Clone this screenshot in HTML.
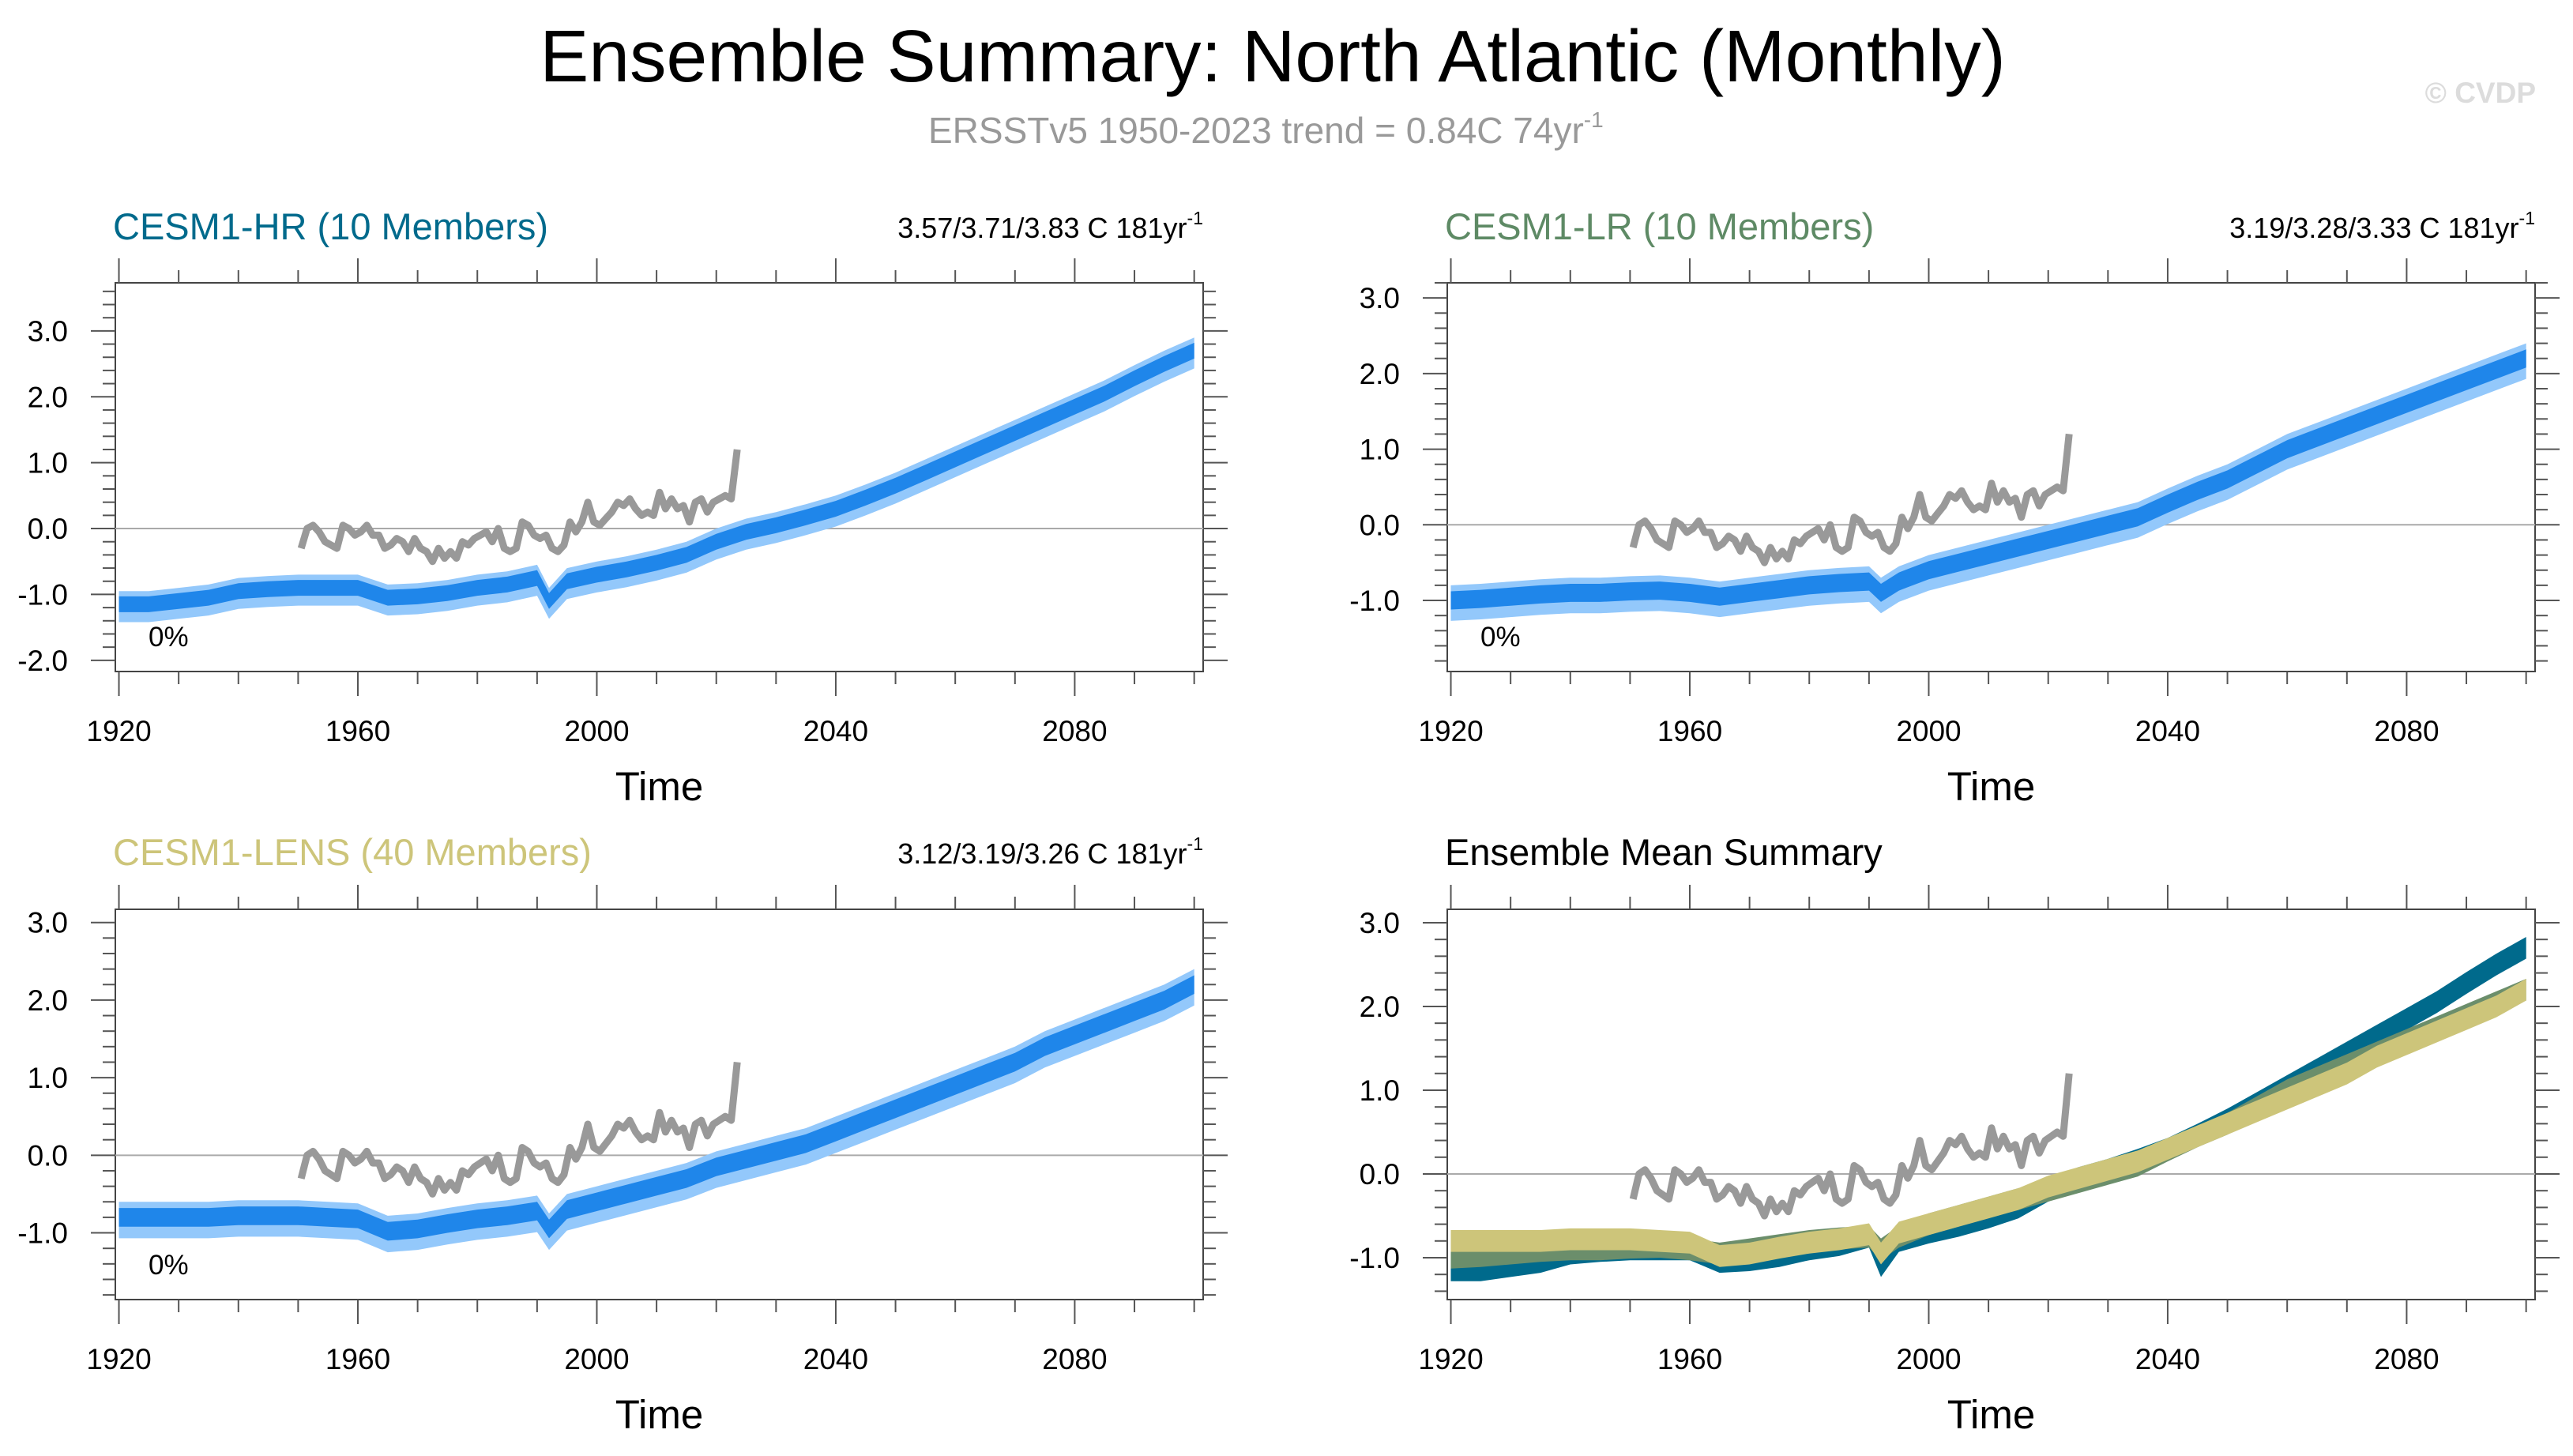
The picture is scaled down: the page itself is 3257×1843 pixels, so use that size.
<!DOCTYPE html>
<html><head><meta charset="utf-8"><style>
html,body{margin:0;padding:0;background:#fff;}
svg{display:block;font-family:"Liberation Sans",Arial,sans-serif;}
</style></head><body>
<svg id="fig" width="3257" height="1843" viewBox="0 0 3257 1843" xmlns="http://www.w3.org/2000/svg">
<rect width="3257" height="1843" fill="#fff"/>
<text x="1611" y="103" font-size="93" text-anchor="middle" fill="#000">Ensemble Summary: North Atlantic (Monthly)</text>
<text x="1175" y="181" font-size="46" fill="#999">ERSSTv5 1950-2023 trend = 0.84C 74yr<tspan font-size="28" dy="-20">-1</tspan></text>
<text x="3210" y="130" font-size="37" font-weight="bold" text-anchor="end" fill="#dcdcdc">© CVDP</text>
<g id="panels"></g>
</svg>
<script>
// ---- data ----
const years = [1920,1925,1930,1935,1940,1945,1950,1955,1960,1965,1970,1975,1980,1985,1990,1992,1995,2000,2005,2010,2015,2020,2025,2030,2035,2040,2045,2050,2055,2060,2065,2070,2075,2080,2085,2090,2095,2100];
const hrMean = [-1.15,-1.15,-1.1,-1.05,-0.95,-0.92,-0.9,-0.9,-0.9,-1.05,-1.03,-0.98,-0.9,-0.85,-0.75,-1.1,-0.8,-0.7,-0.62,-0.52,-0.4,-0.2,-0.05,0.05,0.17,0.3,0.47,0.65,0.85,1.05,1.25,1.45,1.65,1.85,2.05,2.28,2.5,2.7];
const lrMean = [-1.0,-0.98,-0.95,-0.92,-0.9,-0.9,-0.88,-0.87,-0.9,-0.95,-0.9,-0.85,-0.8,-0.77,-0.75,-0.9,-0.75,-0.6,-0.5,-0.4,-0.3,-0.2,-0.1,0.0,0.1,0.28,0.45,0.6,0.8,1.0,1.15,1.3,1.45,1.6,1.75,1.9,2.05,2.2];
const lensMean = [-0.8,-0.8,-0.8,-0.8,-0.78,-0.78,-0.78,-0.8,-0.82,-0.98,-0.95,-0.88,-0.82,-0.78,-0.72,-0.95,-0.7,-0.6,-0.5,-0.4,-0.3,-0.15,-0.05,0.05,0.15,0.3,0.45,0.6,0.75,0.9,1.05,1.2,1.4,1.55,1.7,1.85,2.0,2.2];
const obsYears = [1950,1951,1952,1953,1954,1955,1956,1957,1958,1959,1960,1961,1962,1963,1964,1965,1966,1967,1968,1969,1970,1971,1972,1973,1974,1975,1976,1977,1978,1979,1980,1981,1982,1983,1984,1985,1986,1987,1988,1989,1990,1991,1992,1993,1994,1995,1996,1997,1998,1999,2000,2001,2002,2003,2004,2005,2006,2007,2008,2009,2010,2011,2012,2013,2014,2015,2016,2017,2018,2019,2020,2021,2022,2023];
const obsVals = [-0.3,0.0,0.05,-0.05,-0.2,-0.25,-0.3,0.05,0.0,-0.1,-0.05,0.05,-0.1,-0.1,-0.3,-0.25,-0.15,-0.2,-0.35,-0.15,-0.3,-0.35,-0.5,-0.3,-0.45,-0.35,-0.45,-0.2,-0.25,-0.15,-0.1,-0.05,-0.2,0.0,-0.3,-0.35,-0.3,0.1,0.05,-0.1,-0.15,-0.1,-0.3,-0.35,-0.25,0.1,-0.05,0.1,0.4,0.1,0.05,0.15,0.25,0.4,0.35,0.45,0.3,0.2,0.25,0.2,0.55,0.3,0.45,0.3,0.35,0.1,0.4,0.45,0.25,0.4,0.45,0.5,0.45,1.2];
const xTickLabels = ["1920","1960","2000","2040","2080"];
const innerHalf = 0.12, spreadUp = 0.2, spreadDown = 0.27, meanHalf = 0.13;

const panels = [
 {name:"cesm1-hr", L:146,R:1523,T:358,B:850, ymin:-2.17,ymax:3.73, labels:[3,2,1,0,-1,-2], title:"CESM1-HR (10 Members)", tcolor:"#006a8c", stat:"3.57/3.71/3.83 C 181yr", mean:hrMean, titleY:303},
 {name:"cesm1-lr", L:1832,R:3209,T:358,B:850, ymin:-1.94,ymax:3.2, labels:[3,2,1,0,-1], title:"CESM1-LR (10 Members)", tcolor:"#5e8a65", stat:"3.19/3.28/3.33 C 181yr", mean:lrMean, titleY:303},
 {name:"cesm1-lens", L:146,R:1523,T:1151,B:1645, ymin:-1.86,ymax:3.17, labels:[3,2,1,0,-1], title:"CESM1-LENS (40 Members)", tcolor:"#cdc57a", stat:"3.12/3.19/3.26 C 181yr", mean:lensMean, titleY:1095},
 {name:"ensemble-mean-summary", L:1832,R:3209,T:1151,B:1645, ymin:-1.5,ymax:3.16, labels:[3,2,1,0,-1], title:"Ensemble Mean Summary", tcolor:"#000", stat:null, mean:null, titleY:1095}
];
const NS="http://www.w3.org/2000/svg";
const root=document.getElementById('panels');
function mk(tag,attrs,parent){const e=document.createElementNS(NS,tag);for(const k in attrs)e.setAttribute(k,attrs[k]);parent.appendChild(e);return e;}

panels.forEach(p=>{
  const g=mk('g',{},root);
  
  
  const xmin=1919.4, xmax=2101.5;
  const xs=v=>p.L+(v-xmin)/(xmax-xmin)*(p.R-p.L);
  const ys=v=>p.B-(v-p.ymin)/(p.ymax-p.ymin)*(p.B-p.T);
  const box=mk('rect',{x:p.L,y:p.T,width:p.R-p.L,height:p.B-p.T,fill:'none',stroke:'#444','stroke-width':2},g);
  
  
  const z=mk('line',{x1:p.L,x2:p.R,y1:ys(0),y2:ys(0),stroke:'#aaa','stroke-width':2},g);
  
  
  for(let yr=1920;yr<=2100;yr+=10){
    const x=xs(yr), major=(yr-1920)%40===0, len=major?31:16;
    mk('line',{x1:x,x2:x,y1:p.T,y2:p.T-len,stroke:'#555','stroke-width':2},g);
    mk('line',{x1:x,x2:x,y1:p.B,y2:p.B+len,stroke:'#555','stroke-width':2},g);
  }
  xTickLabels.forEach(s=>{
    const t=mk('text',{x:xs(+s),y:p.B+88,'font-size':37,'text-anchor':'middle',fill:'#000'},g);
    t.textContent=s;
    
    
  });
  const xt=mk('text',{x:(p.L+p.R)/2,y:p.B+163,'font-size':51,'text-anchor':'middle',fill:'#000'},g);
  xt.textContent='Time';
  
  
  for(let k=Math.ceil(p.ymin*5);k<=Math.floor(p.ymax*5);k++){
    const v=k/5, y=ys(v), major=k%5===0, len=major?31:16;
    mk('line',{x1:p.L,x2:p.L-len,y1:y,y2:y,stroke:'#555','stroke-width':2},g);
    mk('line',{x1:p.R,x2:p.R+len,y1:y,y2:y,stroke:'#555','stroke-width':2},g);
  }
  p.labels.forEach(v=>{
    const t=mk('text',{x:p.L-60,y:ys(v)+13,'font-size':37,'text-anchor':'end',fill:'#000'},g);
    t.textContent=v.toFixed(1);
    
    
  });
  const tt=mk('text',{x:p.L-3,y:p.titleY,'font-size':47,fill:p.tcolor},g);
  tt.textContent=p.title;
  
  
  if(p.stat){
    const st=mk('text',{x:p.R,y:p.titleY-2,'font-size':36,'text-anchor':'end',fill:'#000'},g);
    st.innerHTML=p.stat+'<tspan font-size="23" dy="-17">-1</tspan>';
    
    
    const pc=mk('text',{x:p.L+42,y:p.B-32,'font-size':35,fill:'#000'},g);
    pc.textContent='0%';
    
    
  }
  const clip=mk('g',{},g);
  function band(arr,up,down,color,name){
    let d='M'+years.map((yr,i)=>xs(yr).toFixed(1)+','+ys(arr[i]+up).toFixed(1)).join('L');
    d+='L'+years.slice().reverse().map((yr,j)=>{const i=years.length-1-j;return xs(yr).toFixed(1)+','+ys(arr[i]-down).toFixed(1);}).join('L')+'Z';
    const path=mk('path',{d:d,fill:color},clip);
    
    
  }
  if(p.mean){
    band(p.mean,spreadUp,spreadDown,'#93c8fb','ensemble-spread');
    band(p.mean,innerHalf,innerHalf,'#1f86ea','ensemble-range');
  } else {
    band(hrMean,meanHalf,meanHalf,'#006a8c','hr-mean-line');
    band(lrMean,meanHalf,meanHalf,'#6b8e6b','lr-mean-line');
    band(lensMean,meanHalf,meanHalf,'#cdc57a','lens-mean-line');
  }
  const od='M'+obsYears.map((yr,i)=>xs(yr+0.5).toFixed(1)+','+ys(obsVals[i]).toFixed(1)).join('L');
  const ol=mk('path',{d:od,fill:'none',stroke:'#999','stroke-width':9,'stroke-linejoin':'round'},clip);
  
  
});
</script>
</body></html>
